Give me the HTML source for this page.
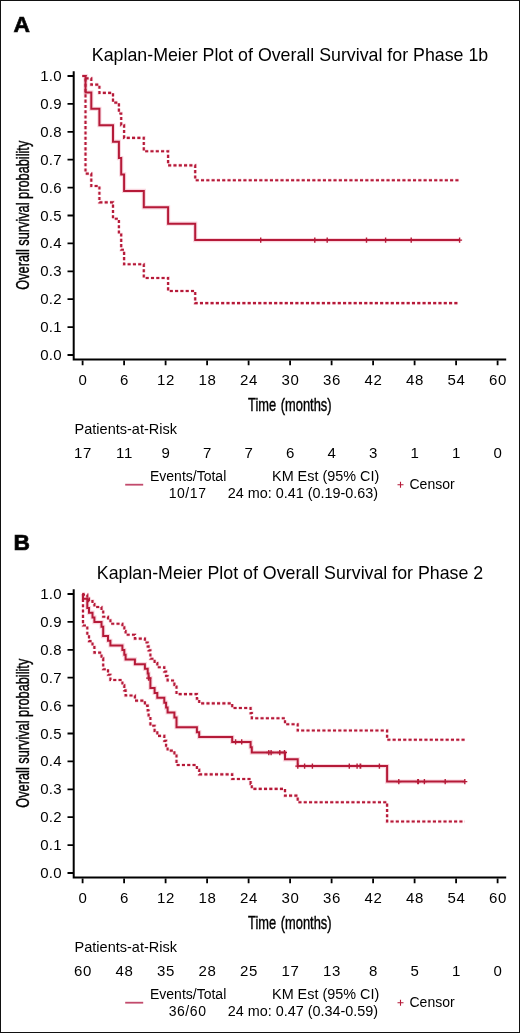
<!DOCTYPE html>
<html><head><meta charset="utf-8"><style>
html,body{margin:0;padding:0;background:#fff;}
body{width:520px;height:1033px;overflow:hidden;}
svg{display:block;will-change:transform;font-family:"Liberation Sans",sans-serif;}
text{fill:#000;}
.n{font-size:15px;letter-spacing:0.7px;}
</style></head><body>
<svg width="520" height="1033" viewBox="0 0 520 1033">
<rect x="0.5" y="0.5" width="519" height="1032" fill="#fff" stroke="#111" stroke-width="1"/>
<text x="13.4" y="32.4" font-size="22.8" font-weight="bold" stroke="#111" stroke-width="0.7">A</text>
<text x="290" y="60.5" font-size="17.8" text-anchor="middle">Kaplan-Meier Plot of Overall Survival for Phase 1b</text>
<path d="M73.7 71.2V360.5M72.7 359.5H506.2" stroke="#000" stroke-width="2" fill="none"/>
<text x="61.7" y="360.00" class="n" style="letter-spacing:0.2px" text-anchor="end">0.0</text>
<text x="61.7" y="332.10" class="n" style="letter-spacing:0.2px" text-anchor="end">0.1</text>
<text x="61.7" y="304.20" class="n" style="letter-spacing:0.2px" text-anchor="end">0.2</text>
<text x="61.7" y="276.30" class="n" style="letter-spacing:0.2px" text-anchor="end">0.3</text>
<text x="61.7" y="248.40" class="n" style="letter-spacing:0.2px" text-anchor="end">0.4</text>
<text x="61.7" y="220.50" class="n" style="letter-spacing:0.2px" text-anchor="end">0.5</text>
<text x="61.7" y="192.60" class="n" style="letter-spacing:0.2px" text-anchor="end">0.6</text>
<text x="61.7" y="164.70" class="n" style="letter-spacing:0.2px" text-anchor="end">0.7</text>
<text x="61.7" y="136.80" class="n" style="letter-spacing:0.2px" text-anchor="end">0.8</text>
<text x="61.7" y="108.90" class="n" style="letter-spacing:0.2px" text-anchor="end">0.9</text>
<text x="61.7" y="81.00" class="n" style="letter-spacing:0.2px" text-anchor="end">1.0</text>
<text x="82.95" y="384.7" class="n" text-anchor="middle">0</text>
<text x="82.95" y="458.1" class="n" text-anchor="middle">17</text>
<text x="124.45" y="384.7" class="n" text-anchor="middle">6</text>
<text x="124.45" y="458.1" class="n" text-anchor="middle">11</text>
<text x="165.95" y="384.7" class="n" text-anchor="middle">12</text>
<text x="165.95" y="458.1" class="n" text-anchor="middle">9</text>
<text x="207.45" y="384.7" class="n" text-anchor="middle">18</text>
<text x="207.45" y="458.1" class="n" text-anchor="middle">7</text>
<text x="248.95" y="384.7" class="n" text-anchor="middle">24</text>
<text x="248.95" y="458.1" class="n" text-anchor="middle">7</text>
<text x="290.45" y="384.7" class="n" text-anchor="middle">30</text>
<text x="290.45" y="458.1" class="n" text-anchor="middle">6</text>
<text x="331.95" y="384.7" class="n" text-anchor="middle">36</text>
<text x="331.95" y="458.1" class="n" text-anchor="middle">4</text>
<text x="373.45" y="384.7" class="n" text-anchor="middle">42</text>
<text x="373.45" y="458.1" class="n" text-anchor="middle">3</text>
<text x="414.95" y="384.7" class="n" text-anchor="middle">48</text>
<text x="414.95" y="458.1" class="n" text-anchor="middle">1</text>
<text x="456.45" y="384.7" class="n" text-anchor="middle">54</text>
<text x="456.45" y="458.1" class="n" text-anchor="middle">1</text>
<text x="497.95" y="384.7" class="n" text-anchor="middle">60</text>
<text x="497.95" y="458.1" class="n" text-anchor="middle">0</text>
<path d="M67.5 355.00H73M67.5 327.10H73M67.5 299.20H73M67.5 271.30H73M67.5 243.40H73M67.5 215.50H73M67.5 187.60H73M67.5 159.70H73M67.5 131.80H73M67.5 103.90H73M67.5 76.00H73M82.60 360.5V365.2M124.10 360.5V365.2M165.60 360.5V365.2M207.10 360.5V365.2M248.60 360.5V365.2M290.10 360.5V365.2M331.60 360.5V365.2M373.10 360.5V365.2M414.60 360.5V365.2M456.10 360.5V365.2M497.60 360.5V365.2" stroke="#000" stroke-width="1.8" fill="none"/>
<text transform="translate(289.8 410.7) scale(0.735 1)" font-size="17.5" text-anchor="middle" stroke="#000" stroke-width="0.4" word-spacing="1.5">Time (months)</text>
<text transform="translate(28.8 215.2) rotate(-90) scale(0.73 1)" font-size="17.5" stroke="#000" stroke-width="0.4" text-anchor="middle">Overall survival probability</text>
<text x="74.6" y="434.4" font-size="14.5">Patients-at-Risk</text>
<path d="M82.60 76.00H85.50V173.60H91.30V185.93H99.40V202.35H113.00V218.77H118.90V234.62H121.20V249.78H124.10V264.22H143.80V277.95H168.10V290.94H195.20V303.17H459.60" stroke="#f9d6df" stroke-width="3.6" fill="none" stroke-dasharray="3.1 2.2"/>
<path d="M82.60 76.00H85.50V78.37H91.30V84.59H99.40V92.91H113.00V102.65H118.90V113.50H121.20V125.28H124.10V137.88H143.80V151.25H168.10V165.37H195.20V180.22H459.60" stroke="#f9d6df" stroke-width="3.6" fill="none" stroke-dasharray="3.1 2.2"/>
<path d="M82.60 76.00H85.50V92.41H91.30V108.82H99.40V125.24H113.00V141.65H118.90V158.06H121.20V174.47H124.10V190.88H143.80V207.29H168.10V223.71H195.20V240.12H459.60" stroke="#f9d6df" stroke-width="4.2" fill="none"/>
<path d="M82.60 76.00H85.50V173.60H91.30V185.93H99.40V202.35H113.00V218.77H118.90V234.62H121.20V249.78H124.10V264.22H143.80V277.95H168.10V290.94H195.20V303.17H459.60" stroke="#b51a38" stroke-width="2.1" fill="none" stroke-dasharray="3.1 2.2"/>
<path d="M82.60 76.00H85.50V78.37H91.30V84.59H99.40V92.91H113.00V102.65H118.90V113.50H121.20V125.28H124.10V137.88H143.80V151.25H168.10V165.37H195.20V180.22H459.60" stroke="#b51a38" stroke-width="2.1" fill="none" stroke-dasharray="3.1 2.2"/>
<path d="M82.60 76.00H85.50V92.41H91.30V108.82H99.40V125.24H113.00V141.65H118.90V158.06H121.20V174.47H124.10V190.88H143.80V207.29H168.10V223.71H195.20V240.12H459.60" stroke="#b51a38" stroke-width="2" fill="none"/>
<path d="M258.20 240.12H263.20M260.70 237.52V242.72M312.30 240.12H317.30M314.80 237.52V242.72M324.70 240.12H329.70M327.20 237.52V242.72M364.00 240.12H369.00M366.50 237.52V242.72M383.10 240.12H388.10M385.60 237.52V242.72M408.70 240.12H413.70M411.20 237.52V242.72M457.10 240.12H462.10M459.60 237.52V242.72" stroke="#b51a38" stroke-width="1.4" fill="none"/>
<path d="M125.2 484.7H143.2" stroke="#c24a6c" stroke-width="1.8" fill="none"/>
<text x="150" y="480.9" font-size="14">Events/Total</text>
<text x="187.6" y="498.1" font-size="14" letter-spacing="0.55" text-anchor="middle">10/17</text>
<text x="379.2" y="480.9" font-size="14.4" text-anchor="end">KM Est (95% CI)</text>
<text x="378.1" y="498.0" font-size="14.4" text-anchor="end">24 mo: 0.41 (0.19-0.63)</text>
<path d="M397.5 484.7H403.5M400.5 481.7V487.7" stroke="#b51a38" stroke-width="1.1" fill="none"/>
<text x="409.5" y="488.8" font-size="14">Censor</text>
<text x="13.4" y="550.4" font-size="22.8" font-weight="bold" stroke="#111" stroke-width="0.7">B</text>
<text x="290" y="578.5" font-size="17.8" text-anchor="middle">Kaplan-Meier Plot of Overall Survival for Phase 2</text>
<path d="M73.7 589.2V878.5M72.7 877.5H506.2" stroke="#000" stroke-width="2" fill="none"/>
<text x="61.7" y="878.00" class="n" style="letter-spacing:0.2px" text-anchor="end">0.0</text>
<text x="61.7" y="850.10" class="n" style="letter-spacing:0.2px" text-anchor="end">0.1</text>
<text x="61.7" y="822.20" class="n" style="letter-spacing:0.2px" text-anchor="end">0.2</text>
<text x="61.7" y="794.30" class="n" style="letter-spacing:0.2px" text-anchor="end">0.3</text>
<text x="61.7" y="766.40" class="n" style="letter-spacing:0.2px" text-anchor="end">0.4</text>
<text x="61.7" y="738.50" class="n" style="letter-spacing:0.2px" text-anchor="end">0.5</text>
<text x="61.7" y="710.60" class="n" style="letter-spacing:0.2px" text-anchor="end">0.6</text>
<text x="61.7" y="682.70" class="n" style="letter-spacing:0.2px" text-anchor="end">0.7</text>
<text x="61.7" y="654.80" class="n" style="letter-spacing:0.2px" text-anchor="end">0.8</text>
<text x="61.7" y="626.90" class="n" style="letter-spacing:0.2px" text-anchor="end">0.9</text>
<text x="61.7" y="599.00" class="n" style="letter-spacing:0.2px" text-anchor="end">1.0</text>
<text x="82.95" y="902.7" class="n" text-anchor="middle">0</text>
<text x="82.95" y="976.1" class="n" text-anchor="middle">60</text>
<text x="124.45" y="902.7" class="n" text-anchor="middle">6</text>
<text x="124.45" y="976.1" class="n" text-anchor="middle">48</text>
<text x="165.95" y="902.7" class="n" text-anchor="middle">12</text>
<text x="165.95" y="976.1" class="n" text-anchor="middle">35</text>
<text x="207.45" y="902.7" class="n" text-anchor="middle">18</text>
<text x="207.45" y="976.1" class="n" text-anchor="middle">28</text>
<text x="248.95" y="902.7" class="n" text-anchor="middle">24</text>
<text x="248.95" y="976.1" class="n" text-anchor="middle">25</text>
<text x="290.45" y="902.7" class="n" text-anchor="middle">30</text>
<text x="290.45" y="976.1" class="n" text-anchor="middle">17</text>
<text x="331.95" y="902.7" class="n" text-anchor="middle">36</text>
<text x="331.95" y="976.1" class="n" text-anchor="middle">13</text>
<text x="373.45" y="902.7" class="n" text-anchor="middle">42</text>
<text x="373.45" y="976.1" class="n" text-anchor="middle">8</text>
<text x="414.95" y="902.7" class="n" text-anchor="middle">48</text>
<text x="414.95" y="976.1" class="n" text-anchor="middle">5</text>
<text x="456.45" y="902.7" class="n" text-anchor="middle">54</text>
<text x="456.45" y="976.1" class="n" text-anchor="middle">1</text>
<text x="497.95" y="902.7" class="n" text-anchor="middle">60</text>
<text x="497.95" y="976.1" class="n" text-anchor="middle">0</text>
<path d="M67.5 873.00H73M67.5 845.10H73M67.5 817.20H73M67.5 789.30H73M67.5 761.40H73M67.5 733.50H73M67.5 705.60H73M67.5 677.70H73M67.5 649.80H73M67.5 621.90H73M67.5 594.00H73M82.60 878.5V883.2M124.10 878.5V883.2M165.60 878.5V883.2M207.10 878.5V883.2M248.60 878.5V883.2M290.10 878.5V883.2M331.60 878.5V883.2M373.10 878.5V883.2M414.60 878.5V883.2M456.10 878.5V883.2M497.60 878.5V883.2" stroke="#000" stroke-width="1.8" fill="none"/>
<text transform="translate(289.8 928.7) scale(0.735 1)" font-size="17.5" text-anchor="middle" stroke="#000" stroke-width="0.4" word-spacing="1.5">Time (months)</text>
<text transform="translate(28.8 733.2) rotate(-90) scale(0.73 1)" font-size="17.5" stroke="#000" stroke-width="0.4" text-anchor="middle">Overall survival probability</text>
<text x="74.6" y="952.4" font-size="14.5">Patients-at-Risk</text>
<path d="M82.60 594.00H83.00V625.55H87.30V635.25H89.00V641.11H92.50V646.93H94.40V652.66H101.50V658.29H103.20V669.30H108.00V674.68H110.40V679.99H122.40V685.23H124.30V690.41H125.60V695.53H134.90V700.59H144.90V705.60H147.70V710.56H148.60V715.47H150.40V725.80H154.60V730.88H157.30V735.90H164.30V740.87H166.10V745.79H167.60V750.67H174.40V755.50H176.50V765.01H196.90V769.70H199.20V774.34H232.20V778.94H250.60V783.96H251.80V788.92H285.00V795.65H297.70V802.19H387.10V821.43H464.80" stroke="#f9d6df" stroke-width="3.6" fill="none" stroke-dasharray="3.1 2.2"/>
<path d="M82.60 594.00H83.00V594.66H87.30V598.60H89.00V601.17H92.50V603.97H94.40V606.96H101.50V610.10H103.20V616.73H108.00V620.19H110.40V623.73H122.40V627.35H124.30V631.04H125.60V634.78H134.90V638.59H144.90V642.45H147.70V646.37H148.60V650.33H150.40V658.71H154.60V662.97H157.30V667.28H164.30V671.64H166.10V676.05H167.60V680.49H174.40V684.98H176.50V694.09H196.90V698.71H199.20V703.37H232.20V708.07H250.60V713.10H251.80V718.18H285.00V724.29H297.70V730.53H387.10V739.79H464.80" stroke="#f9d6df" stroke-width="3.6" fill="none" stroke-dasharray="3.1 2.2"/>
<path d="M82.60 594.00H83.00V598.68H87.30V608.02H89.00V612.70H92.50V617.38H94.40V622.05H101.50V626.73H103.20V636.08H108.00V640.75H110.40V645.43H122.40V650.10H124.30V654.78H125.60V659.45H134.90V664.13H144.90V668.80H147.70V673.48H148.60V678.15H150.40V687.97H154.60V692.88H157.30V697.79H164.30V702.69H166.10V707.60H167.60V712.51H174.40V717.42H176.50V727.24H196.90V732.15H199.20V737.06H232.20V741.96H250.60V747.27H251.80V752.57H285.00V759.34H297.70V766.11H387.10V781.60H464.80" stroke="#f9d6df" stroke-width="4.2" fill="none"/>
<path d="M82.60 594.00H83.00V625.55H87.30V635.25H89.00V641.11H92.50V646.93H94.40V652.66H101.50V658.29H103.20V669.30H108.00V674.68H110.40V679.99H122.40V685.23H124.30V690.41H125.60V695.53H134.90V700.59H144.90V705.60H147.70V710.56H148.60V715.47H150.40V725.80H154.60V730.88H157.30V735.90H164.30V740.87H166.10V745.79H167.60V750.67H174.40V755.50H176.50V765.01H196.90V769.70H199.20V774.34H232.20V778.94H250.60V783.96H251.80V788.92H285.00V795.65H297.70V802.19H387.10V821.43H464.80" stroke="#b51a38" stroke-width="2.1" fill="none" stroke-dasharray="3.1 2.2"/>
<path d="M82.60 594.00H83.00V594.66H87.30V598.60H89.00V601.17H92.50V603.97H94.40V606.96H101.50V610.10H103.20V616.73H108.00V620.19H110.40V623.73H122.40V627.35H124.30V631.04H125.60V634.78H134.90V638.59H144.90V642.45H147.70V646.37H148.60V650.33H150.40V658.71H154.60V662.97H157.30V667.28H164.30V671.64H166.10V676.05H167.60V680.49H174.40V684.98H176.50V694.09H196.90V698.71H199.20V703.37H232.20V708.07H250.60V713.10H251.80V718.18H285.00V724.29H297.70V730.53H387.10V739.79H464.80" stroke="#b51a38" stroke-width="2.1" fill="none" stroke-dasharray="3.1 2.2"/>
<path d="M82.60 594.00H83.00V598.68H87.30V608.02H89.00V612.70H92.50V617.38H94.40V622.05H101.50V626.73H103.20V636.08H108.00V640.75H110.40V645.43H122.40V650.10H124.30V654.78H125.60V659.45H134.90V664.13H144.90V668.80H147.70V673.48H148.60V678.15H150.40V687.97H154.60V692.88H157.30V697.79H164.30V702.69H166.10V707.60H167.60V712.51H174.40V717.42H176.50V727.24H196.90V732.15H199.20V737.06H232.20V741.96H250.60V747.27H251.80V752.57H285.00V759.34H297.70V766.11H387.10V781.60H464.80" stroke="#b51a38" stroke-width="2" fill="none"/>
<path d="M146.10 678.15H151.10M148.60 675.55V680.75M146.30 678.15H151.30M148.80 675.55V680.75M233.10 741.96H238.10M235.60 739.36V744.56M239.20 741.96H244.20M241.70 739.36V744.56M266.30 752.57H271.30M268.80 749.97V755.17M268.60 752.57H273.60M271.10 749.97V755.17M268.60 752.57H273.60M271.10 749.97V755.17M277.30 752.57H282.30M279.80 749.97V755.17M282.00 752.57H287.00M284.50 749.97V755.17M295.30 766.11H300.30M297.80 763.51V768.71M302.10 766.11H307.10M304.60 763.51V768.71M309.90 766.11H314.90M312.40 763.51V768.71M346.80 766.11H351.80M349.30 763.51V768.71M354.60 766.11H359.60M357.10 763.51V768.71M357.70 766.11H362.70M360.20 763.51V768.71M357.70 766.11H362.70M360.20 763.51V768.71M358.10 766.11H363.10M360.60 763.51V768.71M376.90 766.11H381.90M379.40 763.51V768.71M396.30 781.60H401.30M398.80 779.00V784.20M415.30 781.60H420.30M417.80 779.00V784.20M415.90 781.60H420.90M418.40 779.00V784.20M421.90 781.60H426.90M424.40 779.00V784.20M442.70 781.60H447.70M445.20 779.00V784.20M462.30 781.60H467.30M464.80 779.00V784.20" stroke="#b51a38" stroke-width="1.4" fill="none"/>
<path d="M125.2 1002.7H143.2" stroke="#c24a6c" stroke-width="1.8" fill="none"/>
<text x="150" y="998.9" font-size="14">Events/Total</text>
<text x="187.6" y="1016.1" font-size="14" letter-spacing="0.55" text-anchor="middle">36/60</text>
<text x="379.2" y="998.9" font-size="14.4" text-anchor="end">KM Est (95% CI)</text>
<text x="378.1" y="1016.0" font-size="14.4" text-anchor="end">24 mo: 0.47 (0.34-0.59)</text>
<path d="M397.5 1002.7H403.5M400.5 999.7V1005.7" stroke="#b51a38" stroke-width="1.1" fill="none"/>
<text x="409.5" y="1006.8" font-size="14">Censor</text>
</svg>
</body></html>
